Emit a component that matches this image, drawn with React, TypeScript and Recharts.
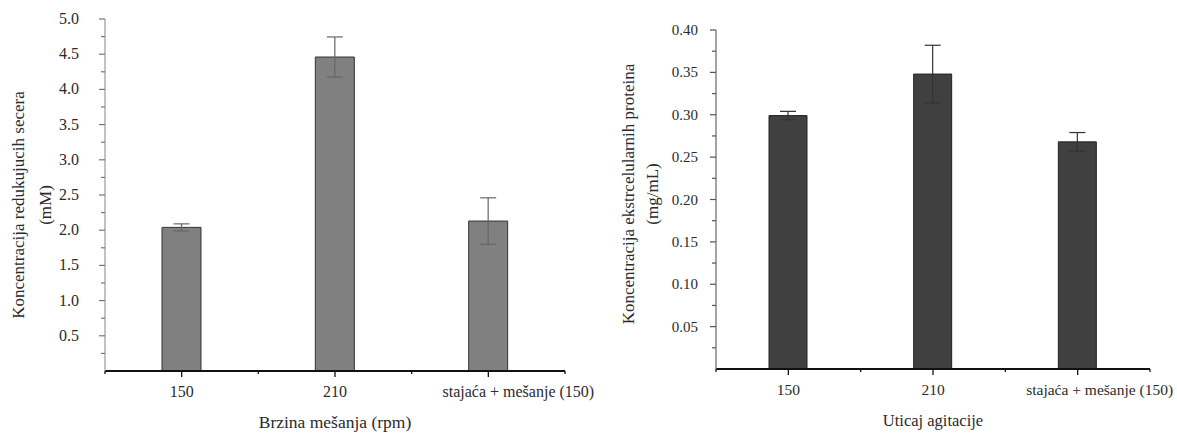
import React from 'react';
import { BarChart, Bar, XAxis, YAxis, ErrorBar } from 'recharts';

const categories = ['150', '210', 'stajaća + mešanje (150)'];

const leftValues = [2.04, 4.46, 2.13];
const leftErrors = [0.05, 0.285, 0.33];
const leftYTicks = [0, 0.25, 0.5, 0.75, 1, 1.25, 1.5, 1.75, 2, 2.25, 2.5, 2.75, 3, 3.25, 3.5, 3.75, 4, 4.25, 4.5, 4.75, 5];
const leftYLabels = ['0.5', '1.0', '1.5', '2.0', '2.5', '3.0', '3.5', '4.0', '4.5', '5.0'];

const rightValues = [0.299, 0.348, 0.268];
const rightErrors = [0.005, 0.034, 0.011];
const rightYTicks = [0, 0.025, 0.05, 0.075, 0.1, 0.125, 0.15, 0.175, 0.2, 0.225, 0.25, 0.275, 0.3, 0.325, 0.35, 0.375, 0.4];
const rightYLabels = ['0.05', '0.10', '0.15', '0.20', '0.25', '0.30', '0.35', '0.40'];

const xTicks = [0, 0.5, 1, 1.5, 2, 2.5, 3];

const FONT = "'Liberation Serif', Tinos, 'Times New Roman', serif";
const TEXT = '#2a2a2a';

const leftData = categories.map((c, i) => ({ x: i + 0.5, name: c, v: leftValues[i], err: leftErrors[i] }));
const rightData = categories.map((c, i) => ({ x: i + 0.5, name: c, v: rightValues[i], err: rightErrors[i] }));

const txt = (size: number): React.CSSProperties => ({ fontFamily: FONT, fontSize: `${size}px`, fill: TEXT });

const makeXTick = (size: number, lastShift: number) => (props: any) => {
  const { x, y, payload } = props;
  const v = payload.value as number;
  const isCenter = Math.abs((v % 1) - 0.5) < 1e-6;
  const idx = Math.round(v - 0.5);
  const shift = idx === categories.length - 1 ? lastShift : 0;
  return (
    <g>
      <line x1={x} x2={x} y1={y} y2={y + (isCenter ? 6 : 3)} stroke="#111" strokeWidth={1.3} />
      {isCenter && (
        <text x={x + shift} y={y + 26} textAnchor="middle" style={txt(size)}>
          {categories[idx]}
        </text>
      )}
    </g>
  );
};

const makeYTick = (ticks: number[], labels: string[], gap: number, size: number, color: string) => (props: any) => {
  const { x, y, payload } = props;
  const v = payload.value as number;
  const i = ticks.indexOf(v);
  if (i <= 0) return <g />;
  const major = i % 2 === 0;
  const label = major ? labels[i / 2 - 1] : null;
  return (
    <g>
      <line x1={x - (major ? 6 : 4)} x2={x} y1={y} y2={y} stroke={color} strokeWidth={1.2} />
      {label && (
        <text x={x - gap} y={y + 5} textAnchor="end" style={txt(size)}>
          {label}
        </text>
      )}
    </g>
  );
};

const YTitle = (l1: string, l2: string, x1: number, x2: number, cy: number) => () => (
  <g>
    <text x={x1} y={cy} transform={`rotate(-90 ${x1} ${cy})`} textAnchor="middle" dominantBaseline="central" style={txt(17)}>
      {l1}
    </text>
    <text x={x2} y={cy} transform={`rotate(-90 ${x2} ${cy})`} textAnchor="middle" dominantBaseline="central" style={txt(17)}>
      {l2}
    </text>
  </g>
);

const XTitle = (t: string, size: number) => (props: any) => {
  const vb = props.viewBox || { x: 0, width: 0, y: 0 };
  const cx = vb.x + vb.width / 2;
  return (
    <text x={cx} y={vb.y + 57} textAnchor="middle" style={txt(size)}>
      {t}
    </text>
  );
};

export default function App() {
  return (
    <div style={{ position: 'absolute', left: 0, top: 0, width: 1177, height: 434, background: '#fff' }}>
      <div style={{ position: 'absolute', left: 0, top: 0 }}>
        <BarChart width={600} height={434} data={leftData} margin={{ top: 19, right: 35, bottom: 0, left: 0 }}>
          <XAxis
            dataKey="x"
            type="number"
            domain={[0, 3]}
            ticks={xTicks}
            interval={0}
            height={63}
            tickSize={0}
            tickMargin={0}
            tickLine={false}
            tick={makeXTick(16, 30)}
            axisLine={{ stroke: '#111', strokeWidth: 2 }}
            label={{ content: XTitle('Brzina mešanja (rpm)', 17.5) }}
          />
          <YAxis
            type="number"
            domain={[0, 5]}
            ticks={leftYTicks}
            interval={0}
            width={105}
            tickSize={0}
            tickMargin={0}
            tickLine={false}
            tick={makeYTick(leftYTicks, leftYLabels, 26, 16, '#777')}
            axisLine={{ stroke: '#999', strokeWidth: 1.2 }}
            label={{ content: YTitle('Koncentracija redukujucih secera', '(mM)', 18, 45, 205) }}
          />
          <Bar dataKey="v" barSize={39} fill="#808080" stroke="#333" strokeWidth={1} isAnimationActive={false}>
            <ErrorBar dataKey="err" width={8} stroke="#666" strokeWidth={1.2} isAnimationActive={false} />
          </Bar>
        </BarChart>
      </div>
      <div style={{ position: 'absolute', left: 600, top: 0 }}>
        <BarChart width={577} height={434} data={rightData} margin={{ top: 30, right: 27, bottom: 0, left: 0 }}>
          <XAxis
            dataKey="x"
            type="number"
            domain={[0, 3]}
            ticks={xTicks}
            interval={0}
            height={65}
            tickSize={0}
            tickMargin={0}
            tickLine={false}
            tick={makeXTick(15.5, 22)}
            axisLine={{ stroke: '#111', strokeWidth: 2 }}
            label={{ content: XTitle('Uticaj agitacije', 16.5) }}
          />
          <YAxis
            type="number"
            domain={[0, 0.4]}
            ticks={rightYTicks}
            interval={0}
            width={116}
            tickSize={0}
            tickMargin={0}
            tickLine={false}
            tick={makeYTick(rightYTicks, rightYLabels, 18, 15, '#555')}
            axisLine={{ stroke: '#666', strokeWidth: 1.2 }}
            label={{ content: YTitle('Koncentracija ekstrcelularnih proteina', '(mg/mL)', 28, 52, 194) }}
          />
          <Bar dataKey="v" barSize={38} fill="#404040" stroke="#222" strokeWidth={1} isAnimationActive={false}>
            <ErrorBar dataKey="err" width={8} stroke="#333" strokeWidth={1.2} isAnimationActive={false} />
          </Bar>
        </BarChart>
      </div>
    </div>
  );
}
